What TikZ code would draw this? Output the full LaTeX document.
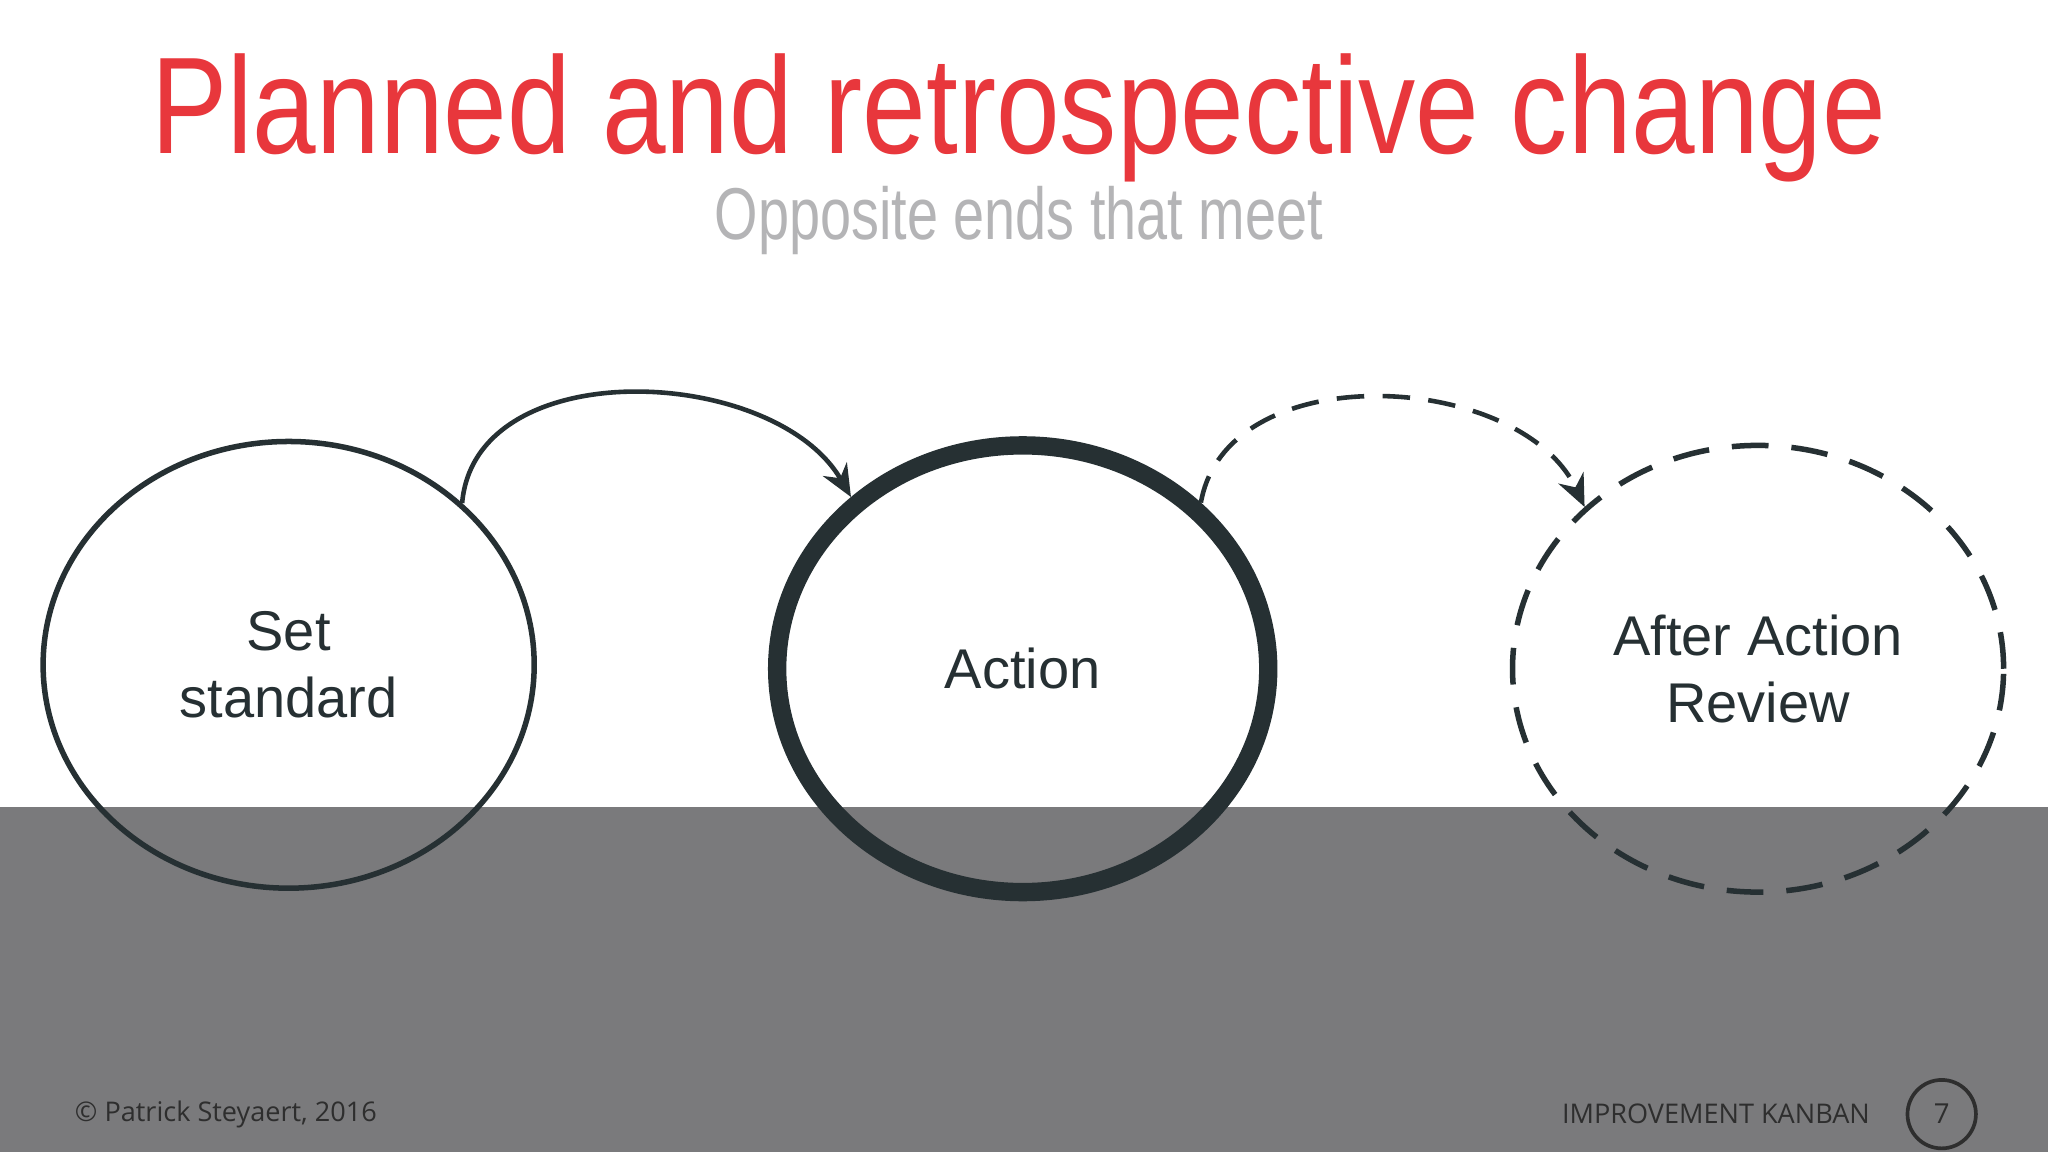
\documentclass[tikz,border=0pt]{standalone}
\usepackage{fontspec}
\setmainfont{Liberation Sans}
\newfontfamily\footfont{Open Sans}
\usepackage{xcolor}
\usetikzlibrary{arrows.meta}
\usetikzlibrary{shapes.geometric}
\usetikzlibrary{positioning}
\definecolor{titlered}{HTML}{E8373C}
\definecolor{subgray}{HTML}{B4B4B6}
\definecolor{bandgray}{HTML}{7A7A7C}
\definecolor{ink}{HTML}{263033}
\definecolor{foot}{HTML}{2E2E2E}

\begin{document}
\begin{tikzpicture}[
        stage/.style={ellipse, draw=ink, minimum width=3.76cm, minimum height=3.42cm,
            align=center, text=ink, font=\fontsize{12.2}{14.5}\selectfont, line width=1.2pt},
        flow/.style={draw=ink, line width=1pt, -{Stealth[length=7pt,width=6pt]}}
    ]
            \useasboundingbox (0,0) rectangle (15.68,8.82);
            \fill[white] (0,0) rectangle (15.68,8.82);
            \fill[bandgray] (0,0) rectangle (15.68,2.64);

            \node[text=titlered, font=\fontsize{30}{34}\selectfont, xscale=0.83] (title) at (7.8,7.92) {Planned and retrospective change};
            \node[text=subgray, font=\fontsize{16}{18}\selectfont, xscale=0.76] (subtitle) at (7.8,7.13) {Opposite ends that meet};

            \node[stage] (set) at (2.21,3.73) {Set\\standard};
            \node[stage, line width=4pt] (act) at (7.83,3.70) {Action};
            \node[stage, dashed, dash pattern=on 8pt off 5pt] (aar) at (13.46,3.70) {After Action\\Review};

            \draw[flow] (set.43) to[out=85, in=120, looseness=1.0] (act.135);
            \draw[flow, dashed, dash pattern=on 6pt off 4pt] (act.43) to[out=80, in=115, looseness=1.0] (aar.137);

            \node[text=foot, font=\footfont\fontsize{5.9}{7}\selectfont, anchor=west] (copy) at (0.45,0.29) {© Patrick Steyaert, 2016};
            \node[text=foot, font=\footfont\fontsize{5.9}{7}\selectfont, anchor=east] (brand) at (14.44,0.29) {IMPROVEMENT KANBAN};
            \node[circle, draw=foot, line width=0.8pt, minimum size=0.5cm, text=foot,
                font=\footfont\fontsize{6}{7}\selectfont, right=0.15cm of brand] (page) {7};
        \end{tikzpicture}
\end{document}
